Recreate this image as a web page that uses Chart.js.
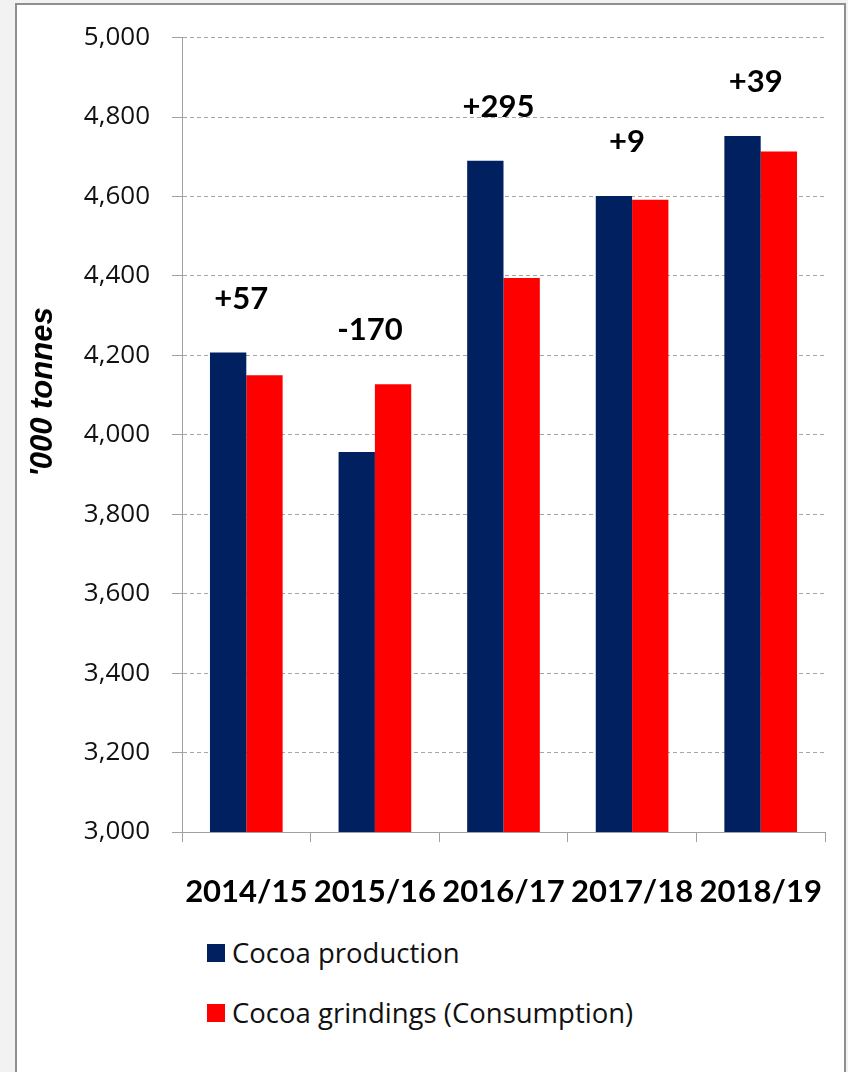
<!DOCTYPE html>
<html>
<head>
<meta charset="utf-8">
<script src="https://cdn.jsdelivr.net/npm/chart.js@4"></script>
<style>
  html, body { margin:0; padding:0; }
  body { width:848px; height:1072px; background:#f2f2f2; position:relative; overflow:hidden; font-family: "Open Sans", Lato, sans-serif; }
  #box { position:absolute; left:15px; top:3px; width:831px; height:1090px; background:#fff; border:2px solid #8f8f8f; box-sizing:border-box; }
  #c { position:absolute; left:0; top:0; }
  .leg { position:absolute; left:207px; font-size:27.5px; color:#111; display:flex; align-items:center; white-space:nowrap; }
  .sw { width:18px; height:18px; margin-right:7px; display:inline-block; }
</style>
</head>
<body>
<div id="box"></div>
<canvas id="c" width="848" height="930"></canvas>
<div class="leg" id="leg1" style="top:934px;"><span class="sw" style="background:#002060"></span><span>Cocoa production</span></div>
<div class="leg" id="leg2" style="top:994px;"><span class="sw" style="background:#ff0000"></span><span>Cocoa grindings (Consumption)</span></div>
<script>
const categories = ['2014/15', '2015/16', '2016/17', '2017/18', '2018/19'];
const production = [4207, 3957, 4690, 4601, 4752];
const grindings = [4150, 4127, 4395, 4592, 4713];
const balanceLabels = ['+57', '-170', '+295', '+9', '+39'];
const yMin = 3000, yMax = 5000, yStep = 200;
const yTitle = "'000 tonnes";

const balancePlugin = {
  id: 'balance',
  afterDatasetsDraw(chart) {
    const {ctx, scales: {x, y}} = chart;
    ctx.save();
    ctx.font = 'bold 31px Lato';
    ctx.fillStyle = '#000';
    ctx.textAlign = 'center';
    ctx.textBaseline = 'middle';
    balanceLabels.forEach((t, i) => {
      const top = Math.min(y.getPixelForValue(production[i]), y.getPixelForValue(grindings[i]));
      ctx.fillText(t, x.getPixelForValue(i) - 5, top - 54);
    });
    ctx.restore();
  }
};
const yTitlePlugin = {
  id: 'ytitle',
  afterDraw(chart) {
    const {ctx} = chart;
    ctx.save();
    ctx.translate(43, 392);
    ctx.rotate(-Math.PI / 2);
    ctx.font = 'italic bold 31px "Liberation Sans"';
    ctx.fillStyle = '#000';
    ctx.textAlign = 'center';
    ctx.textBaseline = 'middle';
    ctx.fillText(yTitle, 0, 0);
    ctx.restore();
  }
};

new Chart(document.getElementById('c'), {
  type: 'bar',
  data: {
    labels: categories,
    datasets: [
      { label: 'Cocoa production', data: production, backgroundColor: '#002060' },
      { label: 'Cocoa grindings (Consumption)', data: grindings, backgroundColor: '#ff0000' }
    ]
  },
  options: {
    responsive: false,
    animation: false,
    devicePixelRatio: 1,
    layout: { padding: { left: 0, top: 26, right: 23, bottom: 0 } },
    plugins: { legend: { display: false }, tooltip: { enabled: false } },
    datasets: { bar: { categoryPercentage: 0.565, barPercentage: 1.0 } },
    scales: {
      x: {
        offset: true,
        grid: { offset: true, drawOnChartArea: false, drawTicks: true, tickLength: 10, color: '#a0a0a0', lineWidth: 1 },
        border: { color: '#a0a0a0', width: 1 },
        ticks: { autoSkip: false, maxRotation: 0, minRotation: 0, padding: 10, color: '#000', font: { family: 'Lato', size: 31, weight: 'bold', lineHeight: '80px' } },
        afterFit(s) { s.height = 98; }
      },
      y: {
        min: yMin, max: yMax,
        grid: { color: '#a6a6a6', lineWidth: 1, tickLength: 10, tickColor: '#a0a0a0', tickBorderDash: [] },
        border: { color: '#a0a0a0', width: 1, dash: [4, 3] },
        ticks: { stepSize: yStep, padding: 22, color: '#111', font: { family: 'Open Sans', size: 26 },
          callback: v => v.toLocaleString('en-US') },
        afterFit(s) { s.width = 182; }
      }
    }
  },
  plugins: [balancePlugin, yTitlePlugin]
});
</script>
</body>
</html>
